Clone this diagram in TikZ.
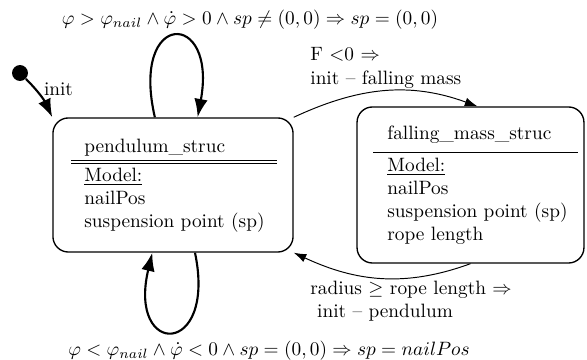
\documentclass[tikz,border=0pt]{standalone}
\usepackage{amsmath,amssymb}
\usetikzlibrary{arrows.meta,positioning,calc}

\begin{document}
\begin{tikzpicture}[x=0.182cm, y=0.182cm,
		statebox/.style={draw, line width=0.7pt, rounded corners=8pt, inner sep=0pt},
		selfloop/.style={line width=1.1pt, -{Latex[length=9.5pt,width=7pt]}},
		trans/.style={line width=0.5pt, -{Latex[length=6.5pt,width=4.5pt]}},
		field/.style={inner sep=0pt, align=left},
		lbl/.style={inner sep=0pt, align=left}]
				\useasboundingbox (0,0) rectangle (58.7,36);
				\node[statebox, minimum width=4.37cm, minimum height=2.44cm] (pend) at (17.3,17.5) {};
				\node[statebox, minimum width=4.13cm, minimum height=2.84cm] (fall) at (47.05,17.5) {};
				\node[field, anchor=base west] (pendName) at (8.4,20.75) {pendulum\_struc};
				\draw[thin, double, double distance=1.5pt] (7.1,19.8) -- (27.7,19.8);
				\node[field, anchor=north west] (pendVars) at (8.4,19.24)
					{\underline{Model:}\\ nailPos\\ suspension point (sp)};
				\node[field, anchor=base west] (fallName) at (38.7,22.0) {falling\_mass\_struc};
				\draw[thin, double, double distance=1.5pt] (37.3,20.91) -- (57.8,20.91);
				\node[field, anchor=north west] (fallVars) at (38.7,20.27)
					{\underline{Model:}\\ nailPos\\ suspension point (sp)\\ rope length};
				\node[circle, fill, minimum size=0.29cm, inner sep=0pt] (start) at (2.0,28.7) {};
				\draw[selfloop] (start) to[out=-45, in=115] (pend.north west);
				\node[lbl] (initLbl) at (5.85,27.1) {init};
				\draw[selfloop] (pend.105) .. controls +(-2.5,10.8) and +(2.0,10.8) .. (pend.70);
				\draw[selfloop] (pend.288) .. controls +(2.2,-10.5) and +(-2.5,-10.5) .. (pend.253);
				\draw[trans] (pend.north east) to[out=25, in=160] (fall.85);
				\draw[trans] (fall.south) to[out=200, in=-25] (pend.south east);
				\node[lbl] (upLbl) at (25.0,34.0)
					{$\varphi > \varphi_{nail} \wedge \dot{\varphi} > 0 \wedge sp \neq (0,0) \Rightarrow sp = (0,0)$};
				\node[lbl] (downLbl) at (26.9,0.95)
					{$\varphi < \varphi_{nail} \wedge \dot{\varphi} < 0 \wedge sp = (0,0) \Rightarrow sp = nailPos$};
				\node[lbl, anchor=west] (toFallLbl) at (31.0,29.2) {F $<$0 $\Rightarrow$\\ init -- falling mass};
				\node[lbl, anchor=west] (toPendLbl) at (31.0,5.9)
					{radius $\geq$ rope length $\Rightarrow$\\ \hspace*{3.5pt}init -- pendulum};
			\end{tikzpicture}
\end{document}
